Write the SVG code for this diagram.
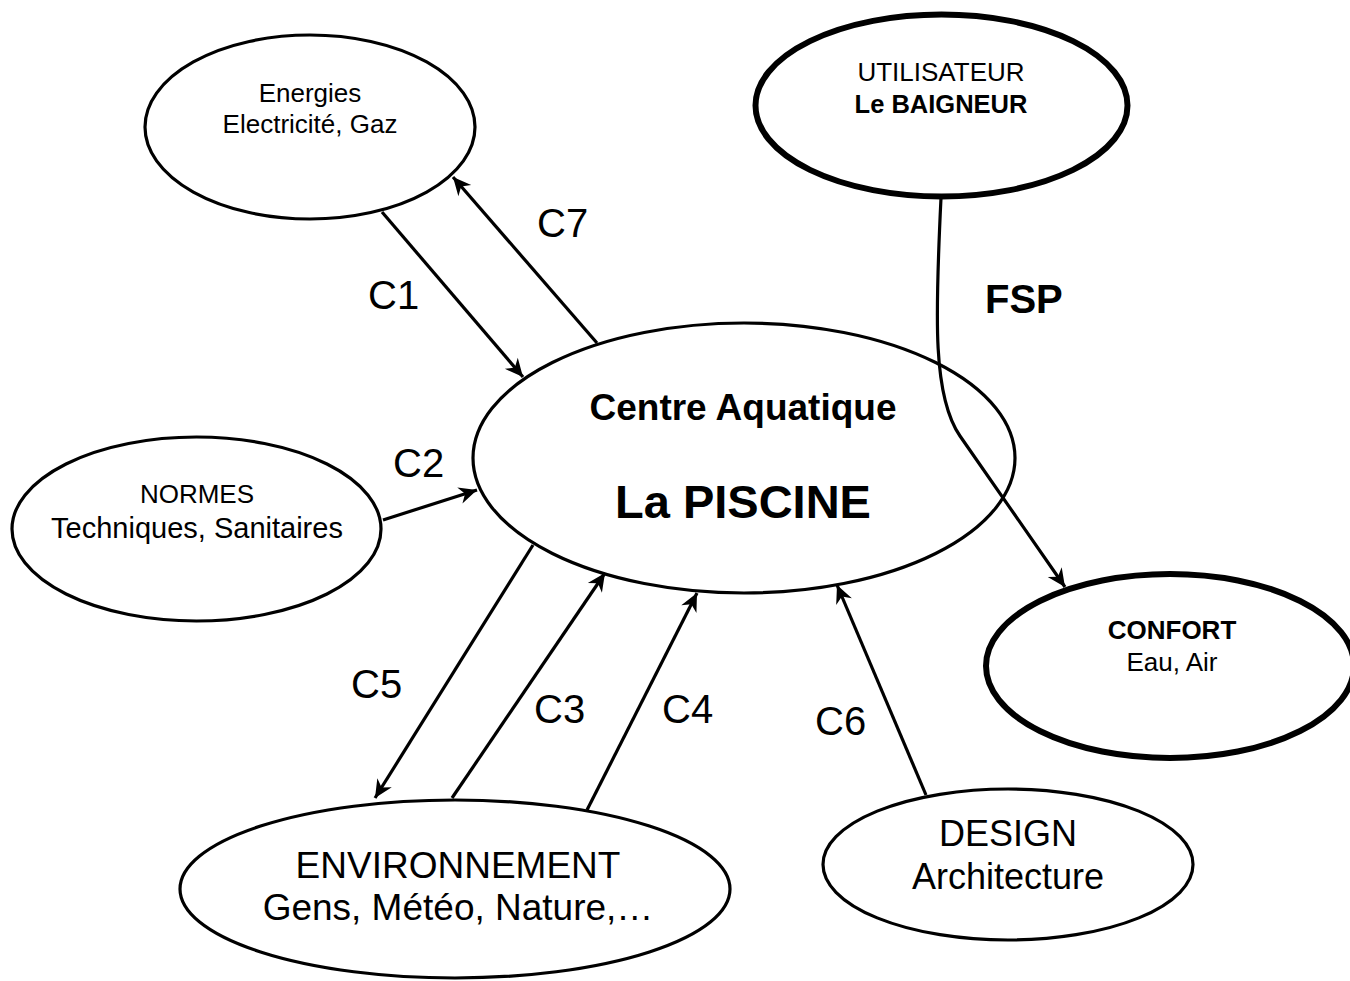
<svg xmlns="http://www.w3.org/2000/svg" width="1350" height="981" viewBox="0 0 1350 981">
<style>
.n{fill:#fff;stroke:#000;stroke-width:3.2}
.k{fill:#fff;stroke:#000;stroke-width:6}
.t{font-family:"Liberation Sans",Arial,sans-serif;fill:#000;text-anchor:middle}
.b{font-weight:bold}
.c{fill:none;stroke:#000;stroke-width:3.2;marker-end:url(#ah)}
.l{font-family:"Liberation Sans",Arial,sans-serif;font-size:40px;fill:#000}
</style>
<defs>
<marker id="ah" viewBox="-20 -10 22 20" refX="0" refY="0" markerWidth="22" markerHeight="20" markerUnits="userSpaceOnUse" orient="auto">
<path d="M0,0 L-18,-8.5 L-12.5,0 L-18,8.5 Z" fill="#000"/>
</marker>
</defs>
<rect width="1350" height="981" fill="#fff"/>
<g id="energies">
<ellipse class="n" cx="310" cy="127" rx="165" ry="92"/>
<text class="t" x="310" y="102" font-size="26">Energies</text>
<text class="t" x="310" y="133" font-size="26">Electricité, Gaz</text>
</g>
<g id="utilisateur">
<ellipse class="k" cx="941.5" cy="105.5" rx="186" ry="91"/>
<text class="t" x="941" y="81" font-size="26">UTILISATEUR</text>
<text class="t b" x="941" y="113" font-size="25.5">Le BAIGNEUR</text>
</g>
<g id="piscine">
<ellipse class="n" cx="744" cy="458" rx="271" ry="135"/>
<text class="t b" x="743" y="420" font-size="37">Centre Aquatique</text>
<text class="t b" x="743" y="518" font-size="47">La PISCINE</text>
</g>
<g id="normes">
<ellipse class="n" cx="196.5" cy="529" rx="184.5" ry="92"/>
<text class="t" x="197" y="503" font-size="26">NORMES</text>
<text class="t" x="197" y="538" font-size="29">Techniques, Sanitaires</text>
</g>
<g id="confort">
<ellipse class="k" cx="1170" cy="666" rx="184" ry="92"/>
<text class="t b" x="1172" y="639" font-size="26">CONFORT</text>
<text class="t" x="1172" y="671" font-size="26">Eau, Air</text>
</g>
<g id="environnement">
<ellipse class="n" cx="455" cy="889" rx="275" ry="89"/>
<text class="t" x="458" y="878" font-size="37">ENVIRONNEMENT</text>
<text class="t" x="458" y="920" font-size="37">Gens, Météo, Nature,…</text>
</g>
<g id="design">
<ellipse class="n" cx="1008" cy="864.5" rx="185" ry="75.5"/>
<text class="t" x="1008" y="846" font-size="36">DESIGN</text>
<text class="t" x="1008" y="889" font-size="36">Architecture</text>
</g>
<g id="connectors">
<path class="c" d="M382,212 L523,377"/>
<path class="c" d="M597,343 L453,177"/>
<path class="c" d="M383,520 L477,490"/>
<path class="c" d="M533,545 L375,798"/>
<path class="c" d="M452,798 L605,573"/>
<path class="c" d="M587,810 L697,593"/>
<path class="c" d="M926,795 L837,585"/>
<path class="c" d="M941,198 C935,320 933,397 960,436 L1065,587"/>
<text class="l" x="537" y="237">C7</text>
<text class="l" x="368" y="309">C1</text>
<text class="l" x="393" y="477">C2</text>
<text class="l" x="351" y="698">C5</text>
<text class="l" x="534" y="723">C3</text>
<text class="l" x="662" y="723">C4</text>
<text class="l" x="815" y="735">C6</text>
<text class="l" x="985" y="313" font-weight="bold">FSP</text>
</g>
</svg>
